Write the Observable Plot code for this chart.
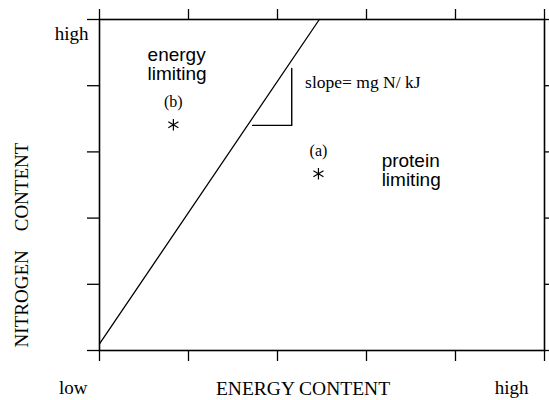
<!DOCTYPE html>
<html>
<head>
<meta charset="utf-8">
<script src="https://cdn.jsdelivr.net/npm/d3@7"></script>
<script src="https://cdn.jsdelivr.net/npm/@observablehq/plot@0.6"></script>
<style>
  html, body { margin: 0; padding: 0; background: white; }
</style>
</head>
<body>
<div id="chart"></div>
<script>
// Axis ticks (arbitrary units, low -> high)
const xTicks = [0, 1, 2, 3, 4, 5];
const yTicks = [0, 1, 2, 3, 4, 5];

// Boundary line: energy vs nitrogen
const boundaryX = [0, 2.47];
const boundaryY = [0.1, 5];

// Slope indicator triangle
const slopeX = [1.72, 2.16, 2.16];
const slopeY = [3.40, 3.40, 4.26];
const slopeLabel = "slope= mg N/ kJ";
const slopeLabelX = 2.31;
const slopeLabelY = 3.97;

// Example diets
const pointLabels = ["(a)", "(b)"];
const pointX = [2.46, 0.83];
const pointY = [2.67, 3.41];

// Region labels
const regionLabels = ["energy\nlimiting", "protein\nlimiting"];
const regionX = [0.54, 3.17];
const regionY = [4.09, 2.49];

// Axis titles and end labels
const xTitle = "ENERGY CONTENT";
const yTitle = "NITROGEN\u2003CONTENT";
const xLow = "low";
const xHigh = "high";
const yHigh = "high";

const boundary = boundaryX.map((x, i) => ({x, y: boundaryY[i]}));
const slope = slopeX.map((x, i) => ({x, y: slopeY[i]}));
const points = pointLabels.map((label, i) => ({label, x: pointX[i], y: pointY[i]}));
const regions = regionLabels.map((label, i) => ({label, x: regionX[i], y: regionY[i]}));

const blank = () => "";

const chart = Plot.plot({
  width: 549,
  height: 400,
  marginLeft: 99,
  marginRight: 5,
  marginTop: 19,
  marginBottom: 50,
  x: {domain: [0, 5]},
  y: {domain: [0, 5]},
  style: {background: "white", color: "black", fontFamily: "'Liberation Serif', 'Times New Roman', serif"},
  marks: [
    Plot.axisX({anchor: "bottom", ticks: xTicks, tickSize: 11, tickFormat: blank, label: null, strokeWidth: 1.3}),
    Plot.axisX({anchor: "top", ticks: xTicks, tickSize: 11, tickFormat: blank, label: null, strokeWidth: 1.3}),
    Plot.axisY({anchor: "left", ticks: yTicks, tickSize: 12, tickFormat: blank, label: null, strokeWidth: 1.3}),
    Plot.axisY({anchor: "right", ticks: yTicks, tickSize: 4, tickFormat: blank, label: null, strokeWidth: 1.3}),
    Plot.frame({stroke: "black", strokeWidth: 1.6}),
    Plot.line(boundary, {x: "x", y: "y", stroke: "black", strokeWidth: 1.3}),
    Plot.line(slope, {x: "x", y: "y", stroke: "black", strokeWidth: 1.4}),
    Plot.text([slopeLabel], {x: [slopeLabelX], y: [slopeLabelY], textAnchor: "start", lineAnchor: "bottom", fontSize: 17.5}),
    Plot.dot(points, {x: "x", y: "y", symbol: "asterisk", r: 5.5, stroke: "black", strokeWidth: 1.2}),
    Plot.text(points, {x: "x", y: "y", text: "label", dy: -18, lineAnchor: "bottom", fontSize: 16}),
    Plot.text(regions, {x: "x", y: "y", text: "label", textAnchor: "start", lineAnchor: "bottom", fontSize: 19, lineHeight: 1.0, fontFamily: "'Liberation Sans', Arial, sans-serif"}),
    Plot.text([xLow], {x: [0], frameAnchor: "bottom", textAnchor: "end", dx: -12, dy: 43, lineAnchor: "bottom", fontSize: 19}),
    Plot.text([xHigh], {x: [5], frameAnchor: "bottom", textAnchor: "end", dx: -16, dy: 43, lineAnchor: "bottom", fontSize: 19}),
    Plot.text([yHigh], {y: [5], frameAnchor: "left", textAnchor: "end", dx: -11, dy: 20, lineAnchor: "bottom", fontSize: 19}),
    Plot.text([xTitle], {frameAnchor: "bottom", textAnchor: "middle", dx: -19, dy: 44, lineAnchor: "bottom", fontSize: 19.5}),
    Plot.text([yTitle], {frameAnchor: "left", textAnchor: "middle", rotate: -90, dx: -72, dy: 60, lineAnchor: "bottom", fontSize: 19})
  ]
});

document.getElementById("chart").appendChild(chart);
</script>
</body>
</html>
